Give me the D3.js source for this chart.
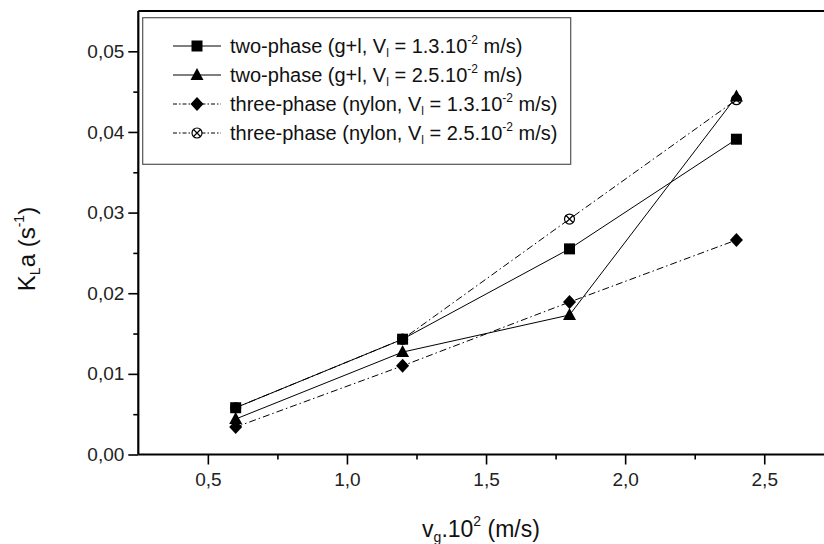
<!DOCTYPE html>
<html>
<head>
<meta charset="utf-8">
<script src="https://cdn.jsdelivr.net/npm/d3@7"></script>
<style>
  body { margin: 0; background: #fff; }
  svg { display: block; font-family: "Liberation Sans", Arial, sans-serif; }
</style>
</head>
<body>
<div id="chart"></div>
<script>
// gas velocity (x 10^2 m/s)
var vg = [0.6, 1.2, 1.8, 2.4];

// KLa values (s^-1)
var twoPhase13 = [0.0058, 0.0143, 0.0255, 0.0391];
var twoPhase25 = [0.0044, 0.0127, 0.0173, 0.0444];
var threePhase13 = [0.0034, 0.0110, 0.0189, 0.0266];
var threePhase25 = [0.0058, 0.0143, 0.0292, 0.0440];

var xTicks = [0.5, 1.0, 1.5, 2.0, 2.5];
var yTicks = [0.00, 0.01, 0.02, 0.03, 0.04, 0.05];

(function () {
  var W = 824, H = 544;
  var mLeft = 138.3, mTop = 11, mBottom = 454.5, mRight = 833.8;

  var x = d3.scaleLinear().domain([0.25, 2.75]).range([mLeft, mRight]);
  var y = d3.scaleLinear().domain([0, 0.055]).range([mBottom, mTop]);

  var svg = d3.select("#chart").append("svg")
    .attr("width", W)
    .attr("height", H);

  var comma = function (f) { return function (d) { return d3.format(f)(d).replace(".", ","); }; };

  // axes
  var yAxis = svg.append("g")
    .attr("transform", "translate(" + mLeft + ",0)")
    .call(d3.axisLeft(y).tickValues(yTicks).tickFormat(comma(".2f")).tickSize(10).tickPadding(4));
  var yMinor = svg.append("g")
    .attr("transform", "translate(" + mLeft + ",0)")
    .call(d3.axisLeft(y).tickValues([0.005, 0.015, 0.025, 0.035, 0.045]).tickFormat("").tickSize(5));

  var xAxis = svg.append("g")
    .attr("transform", "translate(0," + mBottom + ")")
    .call(d3.axisBottom(x).tickValues(xTicks).tickFormat(comma(".1f")).tickSize(10).tickPadding(8));
  var xMinor = svg.append("g")
    .attr("transform", "translate(0," + mBottom + ")")
    .call(d3.axisBottom(x).tickValues([0.75, 1.25, 1.75, 2.25, 2.75]).tickFormat("").tickSize(5));

  yMinor.select(".domain").remove();
  xMinor.select(".domain").remove();
  svg.selectAll("g").attr("font-size", null).attr("font-family", null);
  svg.selectAll(".domain").attr("stroke", "#000").attr("stroke-width", 2.2);
  svg.selectAll(".tick line").attr("stroke", "#000").attr("stroke-width", 1.6);
  svg.selectAll(".tick text")
    .style("font-size", "19px")
    .attr("fill", "#222");
  // plain axis lines without outer ticks
  yAxis.select(".domain").attr("d", "M0," + mBottom + "V" + mTop);
  xAxis.select(".domain").attr("d", "M" + mLeft + ",0H" + mRight);

  // top frame line
  svg.append("line")
    .attr("x1", mLeft).attr("x2", W)
    .attr("y1", mTop).attr("y2", mTop)
    .attr("stroke", "#000").attr("stroke-width", 2);

  // series, drawn back to front
  var series = [
    { vals: threePhase25, dash: "7,3,1.5,3", marker: "xcircle" },
    { vals: threePhase13, dash: "7,3,1.5,3", marker: "diamond" },
    { vals: twoPhase25, dash: null, marker: "triangle" },
    { vals: twoPhase13, dash: null, marker: "square" }
  ];

  var line = d3.line()
    .x(function (d, i) { return x(vg[i]); })
    .y(function (d) { return y(d); });

  series.forEach(function (s) {
    svg.append("path")
      .datum(s.vals)
      .attr("d", line)
      .attr("fill", "none")
      .attr("stroke", "#000")
      .attr("stroke-width", 1)
      .attr("stroke-dasharray", s.dash);
  });

  function drawMarker(g, type, cx, cy) {
    if (type === "square") {
      g.append("rect").attr("x", cx - 5.5).attr("y", cy - 5.5)
        .attr("width", 11).attr("height", 11).attr("fill", "#000");
    } else if (type === "triangle") {
      g.append("path").attr("d", "M" + cx + "," + (cy - 7) + "L" + (cx + 6.5) + "," + (cy + 5) +
        "L" + (cx - 6.5) + "," + (cy + 5) + "Z").attr("fill", "#000");
    } else if (type === "diamond") {
      g.append("path").attr("d", "M" + cx + "," + (cy - 7) + "L" + (cx + 6.5) + "," + cy +
        "L" + cx + "," + (cy + 7) + "L" + (cx - 6.5) + "," + cy + "Z").attr("fill", "#000");
    } else if (type === "xcircle") {
      var r = 5;
      g.append("circle").attr("cx", cx).attr("cy", cy).attr("r", r)
        .attr("fill", "#fff").attr("stroke", "#000").attr("stroke-width", 1.2);
      var k = r * 0.75;
      g.append("path").attr("d", "M" + (cx - k) + "," + (cy - k) + "L" + (cx + k) + "," + (cy + k) +
        "M" + (cx + k) + "," + (cy - k) + "L" + (cx - k) + "," + (cy + k))
        .attr("stroke", "#000").attr("stroke-width", 1.2);
    }
  }

  series.forEach(function (s) {
    var g = svg.append("g");
    s.vals.forEach(function (v, i) { drawMarker(g, s.marker, x(vg[i]), y(v)); });
  });

  // legend
  var legend = svg.append("g");
  legend.append("rect")
    .attr("x", 142.7).attr("y", 17.7)
    .attr("width", 428).attr("height", 146.6)
    .attr("fill", "#fff").attr("stroke", "#555").attr("stroke-width", 1.2);

  var legendItems = [
    { marker: "square", dash: null, pre: "two-phase (g+l, V", mid: " = 1.3.10" },
    { marker: "triangle", dash: null, pre: "two-phase (g+l, V", mid: " = 2.5.10" },
    { marker: "diamond", dash: "4,2,1.5,2", pre: "three-phase (nylon, V", mid: " = 1.3.10" },
    { marker: "xcircle", dash: "4,2,1.5,2", pre: "three-phase (nylon, V", mid: " = 2.5.10" }
  ];

  legendItems.forEach(function (it, i) {
    var cy = 46 + i * 29;
    var g = legend.append("g");
    g.append("line").attr("x1", 173).attr("x2", 221).attr("y1", cy).attr("y2", cy)
      .attr("stroke", "#000").attr("stroke-width", 1).attr("stroke-dasharray", it.dash);
    drawMarker(g, it.marker, 197, cy);
    var t = g.append("text").attr("x", 230).attr("y", cy + 7)
      .attr("font-size", 20).attr("fill", "#111");
    t.append("tspan").text(it.pre);
    t.append("tspan").attr("font-size", 12).attr("dy", 4).text("l");
    t.append("tspan").attr("dy", -4).text(it.mid);
    t.append("tspan").attr("font-size", 12).attr("dy", -9).text("-2");
    t.append("tspan").attr("dy", 9).text(" m/s)");
  });

  // axis titles
  var xt = svg.append("text").attr("x", 481).attr("y", 537)
    .attr("text-anchor", "middle").attr("font-size", 23).attr("fill", "#111");
  xt.append("tspan").text("v");
  xt.append("tspan").attr("font-size", 14).attr("dy", 5).text("g");
  xt.append("tspan").attr("dy", -5).text(".10");
  xt.append("tspan").attr("font-size", 14).attr("dy", -11).text("2");
  xt.append("tspan").attr("dy", 11).text(" (m/s)");

  var yt = svg.append("text")
    .attr("transform", "translate(35,249) rotate(-90)")
    .attr("text-anchor", "middle").attr("font-size", 24).attr("fill", "#111");
  yt.append("tspan").text("K");
  yt.append("tspan").attr("font-size", 14).attr("dy", 5).text("L");
  yt.append("tspan").attr("dy", -5).text("a (s");
  yt.append("tspan").attr("font-size", 14).attr("dy", -11).text("-1");
  yt.append("tspan").attr("dy", 11).text(")");
})();
</script>
</body>
</html>
